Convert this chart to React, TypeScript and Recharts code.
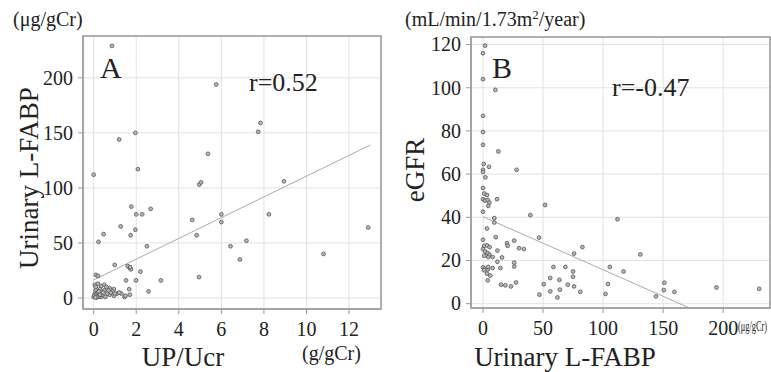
import { ScatterChart, Scatter, XAxis, YAxis, CartesianGrid, ReferenceLine, ReferenceArea } from 'recharts';

// panel A: UP/Ucr (g/gCr) vs urinary L-FABP (µg/gCr)
const upUcr = [
  0.86, 5.76, 1.96, 1.2, 5.37, 0.0, 2.08, 4.96, 5.05, 7.84, 7.73, 8.94, 6.0, 6.0, 8.23, 12.9, 6.43, 7.18, 6.87, 10.8,
  4.95, 4.63, 4.84, 3.16, 2.58, 2.5, 2.68, 2.28, 2.0, 1.77, 1.27, 1.96, 1.74, 0.47, 0.23, 0.99, 1.6, 1.7, 1.75, 1.72,
  2.2, 1.52, 1.99, 0.1, 0.2, 1.67, 1.7,
  0.05, 0.2, 0.35, 0.5, 0.75, 0.95, 0.9, 1.1, 1.3, 1.45, 0.1, 0.05, 0.2, 0.35, 0.55, 0.75, 0.95, 0.0, 0.1, 0.2,
  0.5, 0.65, 0.15, 0.05, 0.25, 0.4, 0.6, 0.8, 1.2, 1.0, 0.3, 0.1, 0.45, 0.7, 1.5, 0.15, 0.3, 0.08, 0.25,
];
const lfabpA = [
  229, 194, 150, 144, 131, 112, 117, 103, 105, 159, 151, 106, 76, 69, 76, 64, 47, 52, 35, 40,
  19, 71, 57, 16, 6, 47, 81, 76, 76, 83, 65, 62, 57, 58, 51, 30, 29, 27, 26, 28,
  24, 16, 16, 21, 20, 8, 3,
  12, 13, 11, 12, 9, 8, 6, 4, 4, 1, 7, 4, 2, 1, 1, 3, 2, 1, 3, 5,
  7, 4, 0.5, 2, 1.5, 3, 10, 5, 5, 4, 8, 10, 5, 7, 2, 1, 3, 0.5, 6,
];
const fitAx = [0, 13];
const fitAy = [16.4, 139];

// panel B: urinary L-FABP (µg/gCr) vs eGFR slope
const lfabpB = [
  1.7, 0, 0, 10.3, 0, 0, 0, 12.8, 0.6, 5, 0, 0, 28, 2, 0, 1, 3.3, 0, 1.7, 3.9,
  5.3, 11.7, 4.4, 51.7, 0, 39.4, 9.4, 9.4, 3.3, 10.6, 46.7, 0, 26, 1, 3.3, 20, 20.5, 30, 34, 5.5,
  12, 0, 1.7, 3.9, 5.3, 1, 4.4, 8, 15.8, 26, 26, 12, 0, 1.7, 3.9, 1, 4.4, 8, 14.5, 3.3,
  6, 3.9, 58.6, 68.6, 15, 18.6, 23.3, 27.5, 56, 63.6, 50.6, 47, 56, 64, 62, 70.6, 112, 82.8, 75.8, 131,
  75, 75, 105.6, 117, 75.8, 81, 104, 102, 151, 150.6, 159.4, 144, 194.4, 230,
];
const egfr = [
  119.5, 116, 104, 99, 87, 79.5, 73.6, 70.5, 64.7, 63.4, 62, 61, 62, 58.5, 53.6, 51, 50.3, 48.4, 47.7, 48,
  46.8, 48.4, 45.3, 45.7, 42.6, 41, 39.6, 37.6, 34.8, 30.8, 30.6, 29.6, 29.2, 26.8, 27, 28, 26.8, 25.7, 25.3, 26.2,
  24.6, 25.3, 24.2, 23.4, 22.6, 22.2, 21.6, 21.6, 21.4, 19, 17.2, 19.4, 16.8, 16.2, 15.8, 15.5, 17, 16.5, 16.5, 13.9,
  13, 10.8, 17, 17, 8.8, 8.5, 8, 9.8, 11.9, 11, 9, 4.2, 5.7, 6.5, 2.9, 8.8, 39.1, 26.2, 23.2, 22.8,
  14.9, 12.5, 17, 14.9, 8, 5.5, 9.1, 4.5, 9.7, 6.3, 5.5, 3.4, 7.5, 6.9,
];
const fitBx = [0, 172];
const fitBy = [40.3, -2];

const ticksAx = [0, 2, 4, 6, 8, 10, 12];
const ticksAy = [0, 50, 100, 150, 200];
const ticksBx = [0, 50, 100, 150, 200];
const ticksBy = [0, 20, 40, 60, 80, 100, 120];

const zip = (xs: number[], ys: number[]) => xs.map((x, i) => ({ x, y: ys[i] }));

const serif = '"Liberation Serif", "DejaVu Serif", serif';

const XTick = (props: any) => (
  <text x={props.x} y={props.y} dy="0.71em" textAnchor="middle" fontSize={20} fontFamily={serif} fill="#222">
    {props.payload.value}
  </text>
);

const YTick = (props: any) => (
  <text x={props.x} y={props.y} dy="0.34em" textAnchor="end" fontSize={20} fontFamily={serif} fill="#222">
    {props.payload.value}
  </text>
);

const Dot = (props: any) => {
  const { cx, cy } = props;
  if (cx == null || cy == null) return <g />;
  return <circle cx={cx} cy={cy} r={1.9} fill="#b8b8b8" stroke="#555" strokeWidth={0.8} />;
};

interface PanelProps {
  data: { x: number; y: number }[];
  fit: { x: number; y: number }[];
  xDomain: [number, number];
  yDomain: [number, number];
  xTicks: number[];
  yTicks: number[];
  width: number;
  margin: { top: number; right: number; bottom: number; left: number };
  yWidth: number;
}

function Panel({ data, fit, xDomain, yDomain, xTicks, yTicks, width, margin, yWidth }: PanelProps) {
  return (
    <ScatterChart width={width} height={372} margin={margin}>
      <CartesianGrid stroke="#e2e2e2" />
      <XAxis
        type="number"
        dataKey="x"
        domain={xDomain}
        ticks={xTicks}
        allowDataOverflow
        height={30}
        tick={<XTick />}
        tickSize={5}
        tickMargin={8}
        axisLine={{ stroke: '#999' }}
        tickLine={{ stroke: '#999' }}
      />
      <YAxis
        type="number"
        dataKey="y"
        domain={yDomain}
        ticks={yTicks}
        allowDataOverflow
        width={yWidth}
        tick={<YTick />}
        tickSize={5}
        tickMargin={5}
        axisLine={{ stroke: '#999' }}
        tickLine={{ stroke: '#999' }}
      />
      <ReferenceArea
        x1={xDomain[0]}
        x2={xDomain[1]}
        y1={yDomain[0]}
        y2={yDomain[1]}
        fill="none"
        stroke="#999"
        strokeWidth={1.5}
      />
      <ReferenceLine segment={fit} stroke="#aaa" strokeWidth={1} />
      <Scatter data={data} shape={<Dot />} isAnimationActive={false} />
    </ScatterChart>
  );
}

export default function App() {
  return (
    <div style={{ position: 'absolute', left: 0, top: 0, width: 771, height: 372, background: '#fff' }}>
      <div style={{ position: 'absolute', left: 0, top: 0 }}>
        <Panel
          data={zip(upUcr, lfabpA)}
          fit={zip(fitAx, fitAy)}
          xDomain={[-0.5, 13.5]}
          yDomain={[-10, 238]}
          xTicks={ticksAx}
          yTicks={ticksAy}
          width={390}
          margin={{ top: 36, right: 9, bottom: 33, left: 0 }}
          yWidth={83}
        />
      </div>
      <div style={{ position: 'absolute', left: 390, top: 0 }}>
        <Panel
          data={zip(lfabpB, egfr)}
          fit={zip(fitBx, fitBy)}
          xDomain={[-10, 239]}
          yDomain={[-2, 123.5]}
          xTicks={ticksBx}
          yTicks={ticksBy}
          width={381}
          margin={{ top: 37, right: 1, bottom: 34, left: 0 }}
          yWidth={81}
        />
      </div>
      <svg
        width={771}
        height={372}
        style={{ position: 'absolute', left: 0, top: 0, pointerEvents: 'none' }}
        fontFamily={serif}
        fill="#222"
      >
        <text x={13} y={26} fontSize={20}>(μg/gCr)</text>
        <text x={100} y={78} fontSize={30}>A</text>
        <text x={249} y={91} fontSize={26}>r=0.52</text>
        <text transform="translate(38,178) rotate(-90)" textAnchor="middle" fontSize={27}>Urinary L-FABP</text>
        <text x={183} y={366} textAnchor="middle" fontSize={27}>UP/Ucr</text>
        <text x={302} y={360} fontSize={20}>(g/gCr)</text>

        <text x={405} y={26} fontSize={20}>
          (mL/min/1.73m<tspan fontSize={13} dy={-7}>2</tspan>
          <tspan dy={7}>/year)</tspan>
        </text>
        <text x={492} y={78} fontSize={30}>B</text>
        <text x={612} y={96} fontSize={26}>r=-0.47</text>
        <text transform="translate(424,170) rotate(-90)" textAnchor="middle" fontSize={27}>eGFR</text>
        <text x={565} y={366} textAnchor="middle" fontSize={27}>Urinary L-FABP</text>
        <text x={738} y={331} fontSize={14} textLength={29} lengthAdjust="spacingAndGlyphs">(μg/gCr)</text>
      </svg>
    </div>
  );
}
